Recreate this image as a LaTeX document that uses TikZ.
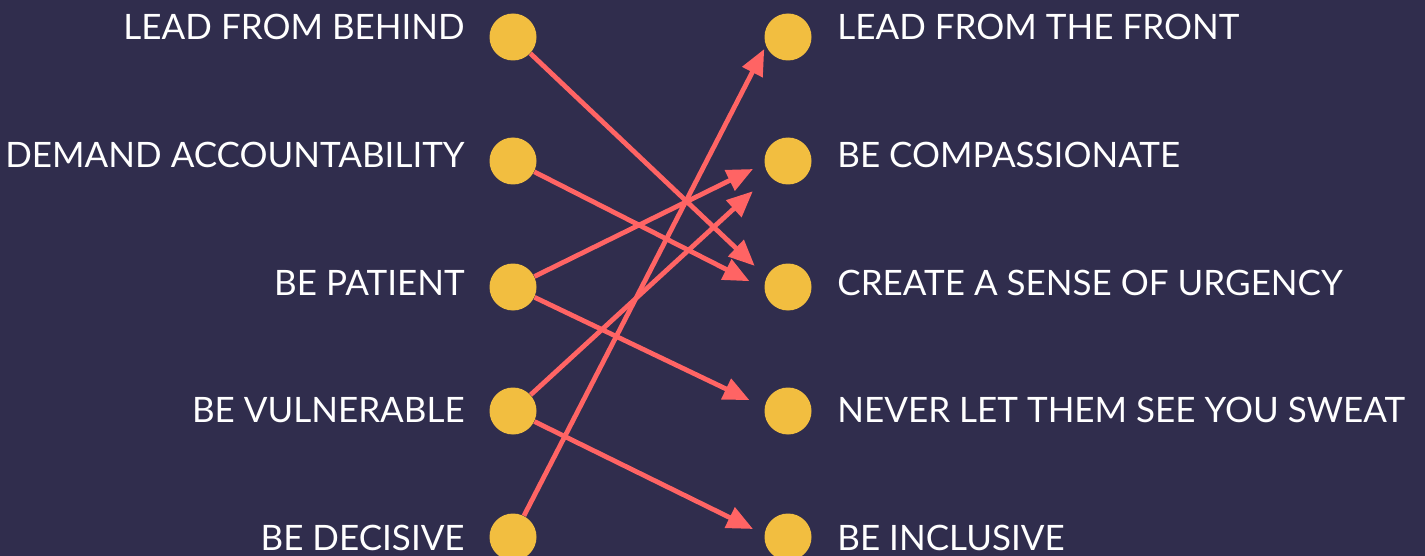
\documentclass[tikz,border=0pt]{standalone}
\usepackage{fontspec}
\setmainfont{Lato}
\usetikzlibrary{arrows.meta}
\definecolor{navy}{HTML}{302D4D}
\definecolor{mustard}{HTML}{F2BE40}
\definecolor{coral}{HTML}{FF6464}
\begin{document}
\begin{tikzpicture}[x=0.5pt,y=-0.5pt,
  dot/.style={circle,fill=mustard,minimum size=23.5pt,inner sep=0pt},
  lbl/.style={text=white,font=\fontsize{17.5}{20}\selectfont,inner sep=0pt},
  link/.style={coral,line width=2.4pt,-{Triangle[length=13pt,width=11pt]}}]
\clip (0,0) rectangle (1425,556);
\fill[navy] (0,0) rectangle (1425,556);
\node[dot] (l1) at (513,37) {};
\node[dot] (l2) at (513,161) {};
\node[dot] (l3) at (513,287) {};
\node[dot] (l4) at (513,411) {};
\node[dot] (l5) at (513,537) {};
\node[dot] (r1) at (788,37) {};
\node[dot] (r2) at (788,161) {};
\node[dot] (r3) at (788,287) {};
\node[dot] (r4) at (788,411) {};
\node[dot] (r5) at (788,537) {};
\node[lbl,anchor=base east] (behind) at (465,40) {LEAD FROM BEHIND};
\node[lbl,anchor=base east] (demand) at (465,167.5) {DEMAND ACCOUNTABILITY};
\node[lbl,anchor=base east] (patient) at (465,295) {BE PATIENT};
\node[lbl,anchor=base east] (vulnerable) at (465,422.5) {BE VULNERABLE};
\node[lbl,anchor=base east] (decisive) at (465,550) {BE DECISIVE};
\node[lbl,anchor=base west] (front) at (837,40) {LEAD FROM THE FRONT};
\node[lbl,anchor=base west] (compassion) at (837,167.5) {BE COMPASSIONATE};
\node[lbl,anchor=base west] (urgency) at (837,295) {CREATE A SENSE OF URGENCY};
\node[lbl,anchor=base west] (sweat) at (837,422.5) {NEVER LET THEM SEE YOU SWEAT};
\node[lbl,anchor=base west] (inclusive) at (837,550) {BE INCLUSIVE};
\draw[link,shorten >=8pt] (l1) -- (r3.155);
\draw[link,shorten >=8.25pt] (l2) -- (r3.184);
\draw[link,shorten >=6.25pt] (l3) -- (r2.186);
\draw[link,shorten >=8.25pt] (l3) -- (r4.171);
\draw[link,shorten >=11.25pt] (l4) -- (r2.219);
\draw[link,shorten >=6.25pt] (l4) -- (r5.174);
\draw[link,shorten >=1.75pt] (l5) -- (r1.202);
\end{tikzpicture}
\end{document}
